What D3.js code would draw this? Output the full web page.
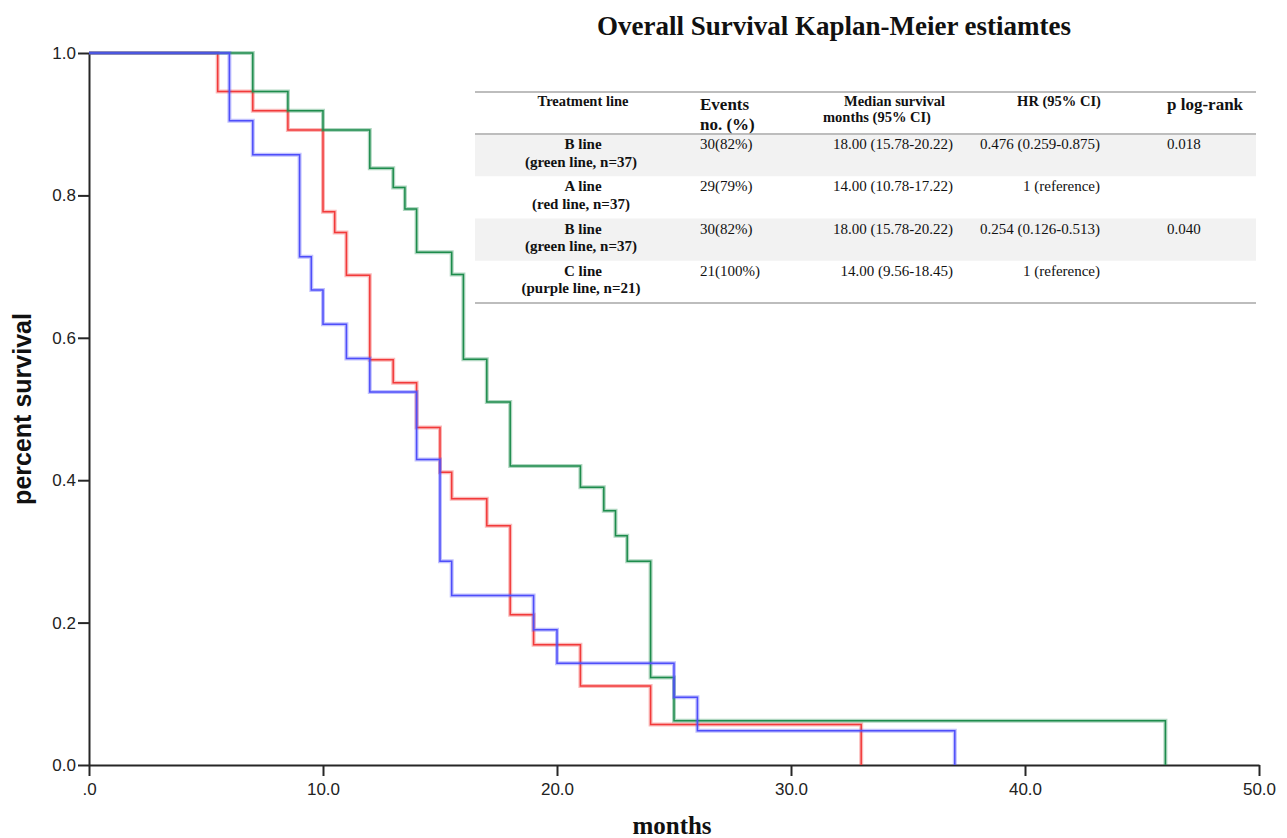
<!DOCTYPE html>
<html>
<head>
<meta charset="utf-8">
<script src="https://cdn.jsdelivr.net/npm/d3@7/dist/d3.min.js"></script>
<style>
	body { margin: 0; background: #fff; }
	svg { display: block; }
	.tick text { font-family: "Liberation Sans", Arial, sans-serif; font-size: 17px; fill: #222; }
	.tbl { font-family: "Liberation Serif", "Times New Roman", serif; fill: #111; }
</style>
</head>
<body>
<div id="chart"></div>
<script>
// survival curves (time in months, survival after each step)
const green_times = [0, 7, 8.5, 10, 12, 13, 13.5, 14, 15.5, 16, 17, 18, 21, 22, 22.5, 23, 24, 25, 46];
const green_surv  = [1, 0.946, 0.919, 0.892, 0.838, 0.811, 0.781, 0.720, 0.689, 0.570, 0.510, 0.420, 0.390, 0.357, 0.322, 0.286, 0.123, 0.062, 0];

const red_times = [0, 5.5, 7, 8.5, 10, 10.5, 11, 12, 13, 14, 15, 15.5, 17, 18, 19, 21, 24, 33];
const red_surv  = [1, 0.946, 0.919, 0.892, 0.777, 0.748, 0.688, 0.569, 0.537, 0.474, 0.411, 0.374, 0.336, 0.211, 0.169, 0.111, 0.057, 0];

const blue_times = [0, 6, 7, 9, 9.5, 10, 11, 12, 14, 15, 15.5, 19, 20, 25, 26, 37];
const blue_surv  = [1, 0.905, 0.857, 0.714, 0.667, 0.619, 0.571, 0.524, 0.429, 0.286, 0.238, 0.190, 0.143, 0.095, 0.048, 0];

const x_ticks = [0, 10, 20, 30, 40, 50];
const y_ticks = [0, 0.2, 0.4, 0.6, 0.8, 1.0];

// table content
const treatment = ["B line", "A line", "B line", "C line"];
const line_desc = ["(green line, n=37)", "(red line, n=37)", "(green line, n=37)", "(purple line, n=21)"];
const events = ["30(82%)", "29(79%)", "30(82%)", "21(100%)"];
const medians = ["18.00 (15.78-20.22)", "14.00 (10.78-17.22)", "18.00 (15.78-20.22)", "14.00 (9.56-18.45)"];
const hrs = ["0.476 (0.259-0.875)", "1 (reference)", "0.254 (0.126-0.513)", "1 (reference)"];
const pvals = ["0.018", "", "0.040", ""];

let width = 1287,
	height = 838,
	margin = {top: 53, bottom: 73, left: 89, right: 28};

let svg = d3.select('#chart').append('svg')
	.attr('width', width)
	.attr('height', height);

let x = d3.scaleLinear().domain([0, 50]).range([margin.left, width - margin.right]);
let y = d3.scaleLinear().domain([0, 1]).range([height - margin.bottom, margin.top]);

// title
svg.append('text')
	.attr('x', 834)
	.attr('y', 35)
	.attr('text-anchor', 'middle')
	.style('font-family', '"Liberation Serif", "Times New Roman", serif')
	.style('font-weight', 'bold')
	.style('font-size', '27px')
	.style('fill', '#111')
	.text('Overall Survival Kaplan-Meier estiamtes');

// table
let rows = d3.scaleBand().domain(d3.range(treatment.length)).range([134, 303]);
let tbl = svg.append('g').attr('class', 'tbl');

tbl.selectAll('rect.band')
	.data(d3.range(treatment.length).filter(i => i % 2 == 0))
	.enter().append('rect')
	.attr('class', 'band')
	.attr('x', 475)
	.attr('width', 781)
	.attr('y', d => rows(d))
	.attr('height', rows.bandwidth())
	.attr('fill', '#f2f2f2');

[92, 134, 303].forEach(ly => {
	tbl.append('line')
		.attr('x1', 475).attr('x2', 1256)
		.attr('y1', ly).attr('y2', ly)
		.attr('stroke', '#bdbdbd')
		.attr('stroke-width', 2);
});

function cell(tx, ty, txt, anchor, size, bold) {
	tbl.append('text')
		.attr('x', tx)
		.attr('y', ty)
		.attr('text-anchor', anchor)
		.style('font-size', size + 'px')
		.style('font-weight', bold ? 'bold' : 'normal')
		.text(txt);
}

// header
cell(583, 106, 'Treatment line', 'middle', 14.5, true);
cell(700, 110, 'Events', 'start', 17, true);
cell(700, 130, 'no. (%)', 'start', 17, true);
cell(844, 106, 'Median survival', 'start', 14.5, true);
cell(823, 122, 'months (95% CI)', 'start', 14.5, true);
cell(1059, 106, 'HR (95% CI)', 'middle', 14.5, true);
cell(1167, 110, 'p log-rank', 'start', 17, true);

treatment.forEach((t, i) => {
	let top = rows(i);
	cell(583, top + 15, t, 'middle', 15, true);
	cell(581, top + 32.5, line_desc[i], 'middle', 15, true);
	cell(700, top + 15, events[i], 'start', 15, false);
	cell(953, top + 15, medians[i], 'end', 15, false);
	cell(1100, top + 15, hrs[i], 'end', 15, false);
	cell(1167, top + 15, pvals[i], 'start', 15, false);
});

// axes
let x_axis = svg.append('g')
	.attr('transform', 'translate(0,' + y(0) + ')')
	.call(d3.axisBottom(x).tickValues(x_ticks).tickSize(11).tickSizeOuter(0).tickPadding(7)
		.tickFormat(d => d == 0 ? '.0' : d3.format('.1f')(d)));

let y_axis = svg.append('g')
	.attr('transform', 'translate(' + x(0) + ',0)')
	.call(d3.axisLeft(y).tickValues(y_ticks).tickSize(11).tickSizeOuter(0).tickPadding(2)
		.tickFormat(d3.format('.1f')));

[x_axis, y_axis].forEach(a => {
	a.selectAll('path, line').attr('stroke', '#262626').attr('stroke-width', 2);
});

// curves
let step = d3.line().curve(d3.curveStepAfter).x(d => x(d[0])).y(d => y(d[1]));

let curves = [
	{times: red_times, surv: red_surv, colour: '#f23a3a'},
	{times: green_times, surv: green_surv, colour: '#1d8c4c'},
	{times: blue_times, surv: blue_surv, colour: '#4e4efa'}
];

curves.forEach(c => {
	let pts = c.times.map((t, i) => [t, c.surv[i]]);
	svg.append('path')
		.attr('d', step(pts))
		.attr('fill', 'none')
		.attr('stroke', c.colour)
		.attr('stroke-opacity', 0.35)
		.attr('stroke-width', 4);
	svg.append('path')
		.attr('d', step(pts))
		.attr('fill', 'none')
		.attr('stroke', c.colour)
		.attr('stroke-width', 1.5);
});

// axis titles
svg.append('text')
	.attr('transform', 'translate(31,409) rotate(-90)')
	.attr('text-anchor', 'middle')
	.style('font-family', '"Liberation Sans", Arial, sans-serif')
	.style('font-weight', 'bold')
	.style('font-size', '25px')
	.style('fill', '#111')
	.text('percent survival');

svg.append('text')
	.attr('x', 672)
	.attr('y', 834)
	.attr('text-anchor', 'middle')
	.style('font-family', '"Liberation Serif", "Times New Roman", serif')
	.style('font-weight', 'bold')
	.style('font-size', '25px')
	.style('fill', '#111')
	.text('months');
</script>
</body>
</html>
